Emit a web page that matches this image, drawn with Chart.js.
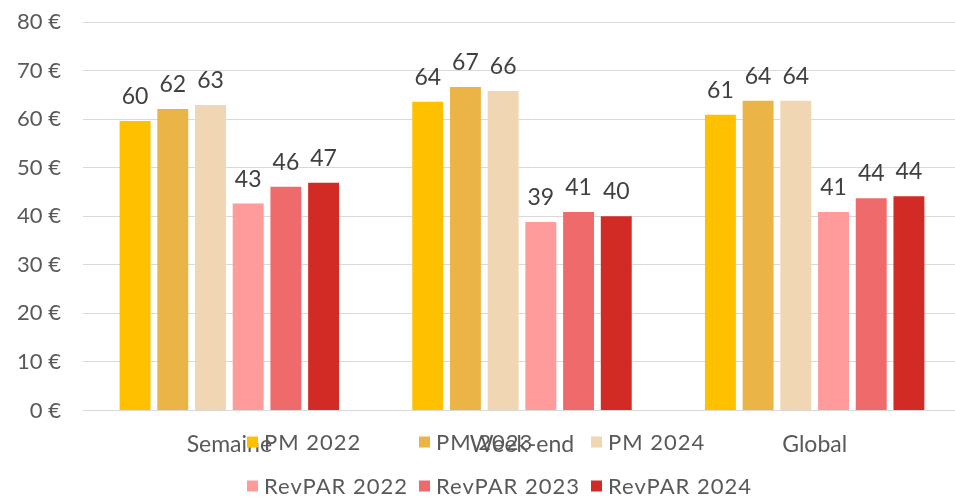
<!DOCTYPE html>
<html>
<head>
<meta charset="utf-8">
<script src="https://cdn.jsdelivr.net/npm/chart.js@4/dist/chart.umd.min.js"></script>
<style>
  html, body { margin: 0; padding: 0; background: #fff; overflow: hidden; }
  #wrap { position: relative; width: 962px; height: 497px; }
</style>
</head>
<body>
<div id="wrap"><canvas id="c"></canvas></div>
<script>
// Categories and series (€)
const categories = ['Semaine', 'Week-end', 'Global'];
const seriesNames = ['PM 2022', 'PM 2023', 'PM 2024', 'RevPAR 2022', 'RevPAR 2023', 'RevPAR 2024'];
const pm2022 = [59.6, 63.6, 60.9];
const pm2023 = [62.1, 66.6, 63.8];
const pm2024 = [62.9, 65.8, 63.8];
const revpar2022 = [42.6, 38.8, 40.9];
const revpar2023 = [46.1, 40.9, 43.7];
const revpar2024 = [46.9, 40.0, 44.1];
const yMin = 0, yMax = 80, yStep = 10;

const seriesValues = [pm2022, pm2023, pm2024, revpar2022, revpar2023, revpar2024];
const seriesColors = ['#FFC000', '#EBB447', '#F1D6B4', '#FF9B9B', '#EF6B6B', '#D22B25'];

const FONT = 'Lato';
const AXIS_GREY = '#595959';

// Value labels above each bar
const valueLabels = {
  id: 'valueLabels',
  afterDatasetsDraw(chart) {
    const ctx = chart.ctx;
    ctx.save();
    ctx.font = '23px ' + FONT;
    ctx.fillStyle = '#404040';
    ctx.textAlign = 'center';
    ctx.textBaseline = 'alphabetic';
    chart.data.datasets.forEach((ds, i) => {
      const meta = chart.getDatasetMeta(i);
      meta.data.forEach((bar, j) => {
        ctx.fillText(String(Math.round(ds.data[j])), bar.x, bar.y - 17);
      });
    });
    ctx.restore();
  }
};

// Two-row legend laid over the bottom of the chart
const gridLegend = {
  id: 'gridLegend',
  afterDraw(chart) {
    const ctx = chart.ctx;
    const ds = chart.data.datasets;
    const perRow = 3, box = 11, textGap = 17, colStep = 172;
    const startX = 247, rowY = [443, 487];
    ctx.save();
    ctx.font = '22px ' + FONT;
    ctx.letterSpacing = '1px';
    ctx.textBaseline = 'middle';
    ctx.textAlign = 'left';
    ds.forEach((d, i) => {
      const col = i % perRow, row = Math.floor(i / perRow);
      const x = startX + col * colStep;
      const y = rowY[row];
      ctx.fillStyle = d.backgroundColor;
      ctx.fillRect(x, y - box / 2 - 1, box, box);
      ctx.fillStyle = AXIS_GREY;
      ctx.fillText(d.label, x + textGap, y);
    });
    ctx.restore();
  }
};

new Chart(document.getElementById('c'), {
  type: 'bar',
  data: {
    labels: categories,
    datasets: seriesNames.map((name, i) => ({
      label: name,
      data: seriesValues[i],
      backgroundColor: seriesColors[i],
      borderWidth: 0,
      categoryPercentage: 0.773,
      barPercentage: 0.82
    }))
  },
  options: {
    responsive: true,
    maintainAspectRatio: false,
    animation: false,
    layout: { padding: { top: 22, right: 1, bottom: 0, left: 0 } },
    plugins: { legend: { display: false }, tooltip: { enabled: false } },
    scales: {
      x: {
        grid: { display: false, drawTicks: false },
        border: { display: false },
        ticks: { padding: 20, color: AXIS_GREY, font: { family: FONT, size: 23 } },
        afterFit(scale) { scale.height = 86.5; }
      },
      y: {
        min: yMin,
        max: yMax,
        ticks: {
          stepSize: yStep,
          padding: 22,
          color: AXIS_GREY,
          font: { family: FONT, size: 22 },
          callback: v => v + ' €'
        },
        grid: { color: '#D9D9D9', lineWidth: 1, drawTicks: false },
        border: { display: false },
        afterFit(scale) {
          scale.width = 83;
          scale.paddingTop = 0;
          scale.paddingBottom = 0;
        }
      }
    }
  },
  plugins: [valueLabels, gridLegend]
});
</script>
</body>
</html>
